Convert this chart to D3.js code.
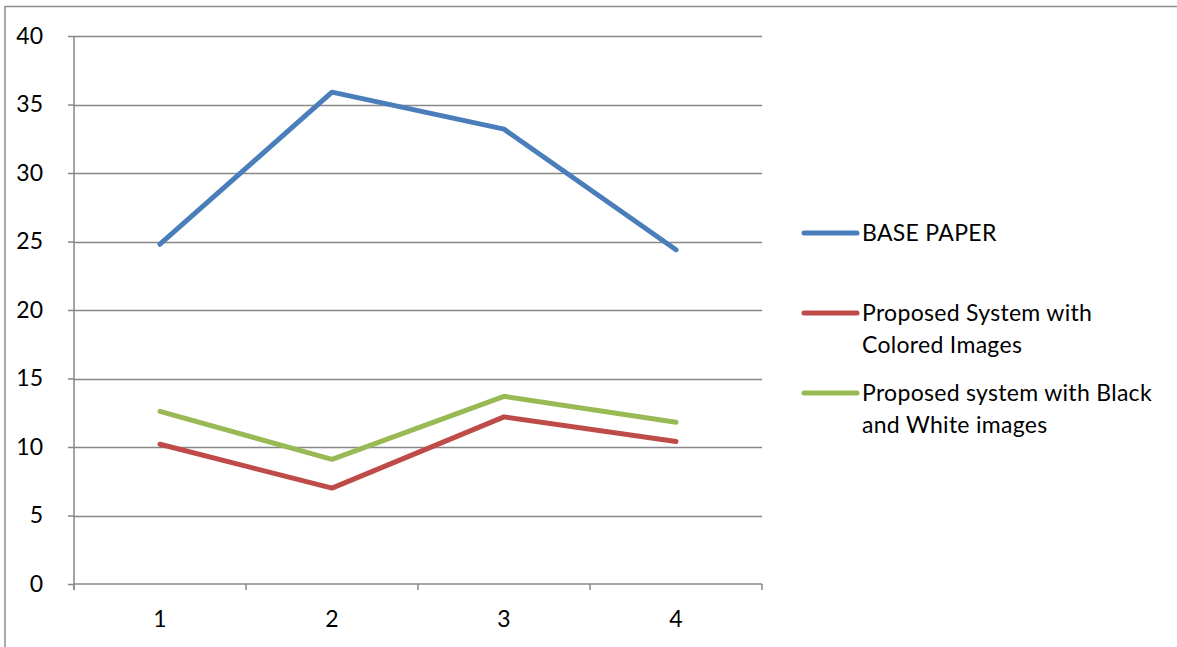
<!DOCTYPE html>
<html>
<head>
<meta charset="utf-8">
<script src="https://cdn.jsdelivr.net/npm/d3@7"></script>
<style>
  html, body { margin: 0; padding: 0; background: #fff; }
  svg { display: block; }
  text { font-family: Lato, "Open Sans", sans-serif; fill: #000; }
</style>
</head>
<body>
<svg id="chart" width="1177" height="647"></svg>
<script>
// Categories on the x axis
const categories = ["1", "2", "3", "4"];
// Series names (legend)
const seriesNames = [
  "BASE PAPER",
  "Proposed System with Colored Images",
  "Proposed system with Black and White images"
];
// Series values
const basePaper = [24.8, 35.9, 33.2, 24.4];
const coloredImages = [10.2, 7.0, 12.2, 10.4];
const bwImages = [12.6, 9.1, 13.7, 11.8];
// Y axis ticks
const yTicks = [0, 5, 10, 15, 20, 25, 30, 35, 40];
// Legend label lines
const legendLines = [
  ["BASE PAPER"],
  ["Proposed System with", "Colored Images"],
  ["Proposed system with Black", "and White images"]
];
const colors = ["#4A7EBB", "#BE4B48", "#98B954"];
const fontSize = "23px";

const svg = d3.select("#chart");
const plot = { left: 74, right: 762, top: 36, bottom: 584 };

const x = d3.scaleBand().domain(categories).range([plot.left, plot.right]).padding(0);
const y = d3.scaleLinear().domain([0, 40]).range([plot.bottom, plot.top]);

// Outer frame (top and left edges)
svg.append("line").attr("x1", 4.5).attr("x2", 1177).attr("y1", 6.5).attr("y2", 6.5)
  .attr("stroke", "#8c8c8c").attr("stroke-width", 1.5);
svg.append("line").attr("x1", 5).attr("x2", 5).attr("y1", 6.5).attr("y2", 647)
  .attr("stroke", "#8c8c8c").attr("stroke-width", 1.5);

// Horizontal gridlines
svg.append("g").selectAll("line").data(yTicks.filter(d => d > 0)).join("line")
  .attr("x1", plot.left).attr("x2", plot.right)
  .attr("y1", d => Math.round(y(d)) + 0.5).attr("y2", d => Math.round(y(d)) + 0.5)
  .attr("stroke", "#878787").attr("stroke-width", 1.5);

// Y axis
const yAxis = svg.append("g")
  .attr("transform", `translate(${plot.left},0)`)
  .call(d3.axisLeft(y).tickValues(yTicks).tickSize(6).tickPadding(25).tickFormat(d3.format("d")));
yAxis.select(".domain").attr("stroke", "#878787").attr("stroke-width", 1.5)
  .attr("d", `M0,${plot.top}V${plot.bottom + 6}`);
yAxis.selectAll(".tick line").attr("stroke", "#878787").attr("stroke-width", 1.5);
yAxis.selectAll(".tick text").style("font-size", fontSize).attr("fill", "#000");

// X axis
const xAxis = svg.append("g")
  .attr("transform", `translate(0,${plot.bottom})`)
  .call(d3.axisBottom(x).tickSize(0).tickPadding(27));
xAxis.select(".domain").attr("stroke", "#878787").attr("stroke-width", 1.5)
  .attr("d", `M${plot.left},0H${plot.right}`);
xAxis.selectAll(".tick text").style("font-size", fontSize).attr("fill", "#000");
// Category boundary ticks
const bounds = categories.map(c => x(c)).concat([x(categories[categories.length - 1]) + x.bandwidth()]);
xAxis.append("g").selectAll("line").data(bounds).join("line")
  .attr("x1", d => d).attr("x2", d => d).attr("y1", 0).attr("y2", 6)
  .attr("stroke", "#878787").attr("stroke-width", 1.5);

// Series lines
const series = [basePaper, coloredImages, bwImages];
const line = d3.line()
  .x((d, i) => x(categories[i]) + x.bandwidth() / 2)
  .y(d => y(d));
svg.append("g").selectAll("path").data(series).join("path")
  .attr("d", line)
  .attr("fill", "none")
  .attr("stroke", (d, i) => colors[i])
  .attr("stroke-width", 5)
  .attr("stroke-linejoin", "round")
  .attr("stroke-linecap", "round");

// Legend
const legendY = [233, 313, 393];
const legend = svg.append("g");
seriesNames.forEach((name, i) => {
  const g = legend.append("g").attr("transform", `translate(0,${legendY[i]})`);
  g.append("line").attr("x1", 804).attr("x2", 857).attr("y1", 0).attr("y2", 0)
    .attr("stroke", colors[i]).attr("stroke-width", 5).attr("stroke-linecap", "round");
  g.selectAll("text").data(legendLines[i]).join("text")
    .attr("x", 862).attr("y", (d, j) => 7.5 + j * 32)
    .style("font-size", fontSize)
    .style("letter-spacing", "0.3px")
    .text(d => d);
});
</script>
</body>
</html>
